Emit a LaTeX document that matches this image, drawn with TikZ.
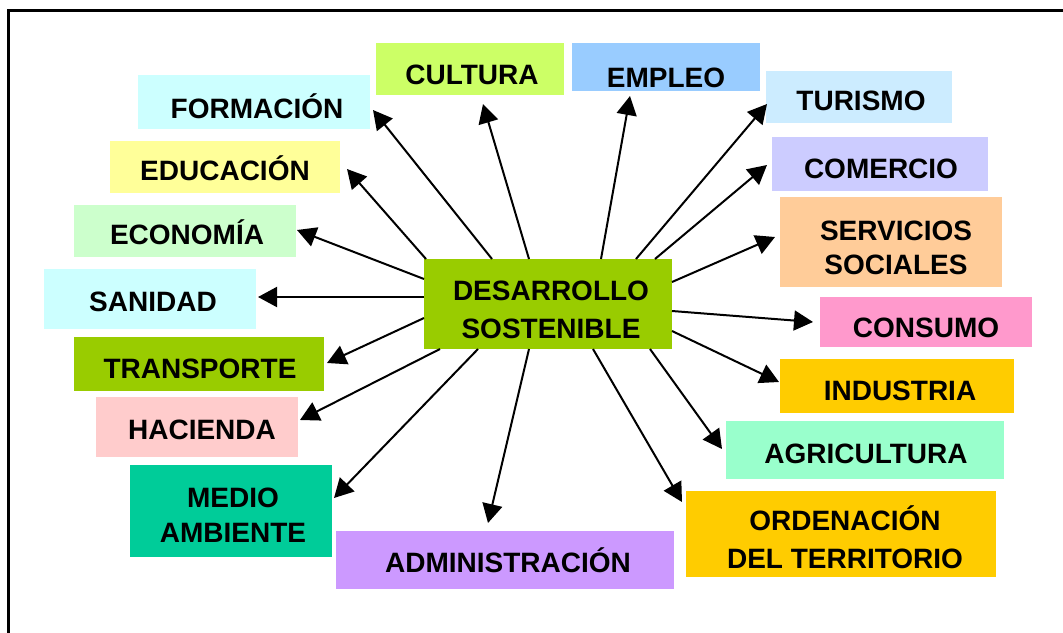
\documentclass[tikz,border=0pt]{standalone}
\usepackage{fontspec}
\setmainfont{Liberation Sans}
\usetikzlibrary{arrows.meta,calc}
\definecolor{cForm}{HTML}{CCFFFF}
\definecolor{cEdu}{HTML}{FFFF99}
\definecolor{cEco}{HTML}{CCFFCC}
\definecolor{cSan}{HTML}{CCFFFF}
\definecolor{cTra}{HTML}{99CC00}
\definecolor{cHac}{HTML}{FFCCCC}
\definecolor{cMed}{HTML}{00CC99}
\definecolor{cAdm}{HTML}{CC99FF}
\definecolor{cOrd}{HTML}{FFCC00}
\definecolor{cAgr}{HTML}{99FFCC}
\definecolor{cInd}{HTML}{FFCC00}
\definecolor{cCon}{HTML}{FF99CC}
\definecolor{cSer}{HTML}{FFCC99}
\definecolor{cCom}{HTML}{CCCCFF}
\definecolor{cTur}{HTML}{CCECFF}
\definecolor{cEmp}{HTML}{99CCFF}
\definecolor{cCul}{HTML}{CCFF66}
\definecolor{cDes}{HTML}{99CC00}
% #1 horizontal shift (doubled), #2 baseline drop, #3 line skip, #4 text
\newcommand\bt[4]{\smash{\raisebox{-#2}{\hspace*{#1}\vtop{\baselineskip=#3\halign{\hfil##\hfil\cr#4\crcr}}}}}
\begin{document}
\begin{tikzpicture}[x=1pt,y=-1pt,
  box/.style={inner sep=0pt, outer sep=0pt, font=\fontsize{28}{34}\selectfont\bfseries},
  arr/.style={line width=2pt, -{Triangle[length=19pt,width=20pt]}}]
\useasboundingbox (0,0) rectangle (1063,632);
\clip (0,0) rectangle (1063,632);
\fill[white] (0,0) rectangle (1063,632);
\draw[line width=3.3pt, line join=miter] (8.5,660) -- (8.5,10.5) -- (1090,10.5);

\node[box, fill=cDes, minimum width=248pt, minimum height=90pt] (c) at (548,304) {\bt{6pt}{-3.5pt}{38pt}{DESARROLLO\cr SOSTENIBLE}};

\node[box, fill=cForm, minimum width=232pt, minimum height=54pt] (form) at (254,102) {\bt{6pt}{16.5pt}{0pt}{FORMACIÓN}};
\node[box, fill=cEdu, minimum width=230pt, minimum height=52pt] (edu) at (225,167) {\bt{0pt}{13.5pt}{0pt}{EDUCACIÓN}};
\node[box, fill=cEco, minimum width=222pt, minimum height=52pt] (eco) at (185,231) {\bt{4pt}{13pt}{0pt}{ECONOMÍA}};
\node[box, fill=cSan, minimum width=212pt, minimum height=60pt] (san) at (150,299) {\bt{6pt}{12pt}{0pt}{SANIDAD}};
\node[box, fill=cTra, minimum width=250pt, minimum height=54pt] (tra) at (199,364) {\bt{2pt}{14pt}{0pt}{TRANSPORTE}};
\node[box, fill=cHac, minimum width=202pt, minimum height=60pt] (hac) at (197,427) {\bt{10pt}{12pt}{0pt}{HACIENDA}};
\node[box, fill=cMed, minimum width=202pt, minimum height=92pt] (med) at (231,511) {\bt{4pt}{-3.5pt}{35pt}{MEDIO\cr AMBIENTE}};
\node[box, fill=cAdm, minimum width=338pt, minimum height=58pt] (adm) at (505,560) {\bt{6pt}{12.5pt}{0pt}{ADMINISTRACIÓN}};
\node[box, fill=cOrd, minimum width=310pt, minimum height=86pt] (ord) at (841,534) {\bt{8pt}{-4pt}{38pt}{ORDENACIÓN\cr DEL TERRITORIO}};
\node[box, fill=cAgr, minimum width=278pt, minimum height=58pt] (agr) at (865,450) {\bt{2pt}{13pt}{0pt}{AGRICULTURA}};
\node[box, fill=cInd, minimum width=234pt, minimum height=54pt] (ind) at (897,386) {\bt{6pt}{14pt}{0pt}{INDUSTRIA}};
\node[box, fill=cCon, minimum width=212pt, minimum height=50pt] (con) at (926,322) {\bt{0pt}{15.5pt}{0pt}{CONSUMO}};
\node[box, fill=cSer, minimum width=222pt, minimum height=90pt] (ser) at (891,242) {\bt{10pt}{-1.5pt}{34pt}{SERVICIOS\cr SOCIALES}};
\node[box, fill=cCom, minimum width=216pt, minimum height=54pt] (com) at (880,164) {\bt{2pt}{14pt}{0pt}{COMERCIO}};
\node[box, fill=cTur, minimum width=186pt, minimum height=52pt] (tur) at (859,97) {\bt{4pt}{13.5pt}{0pt}{TURISMO}};
\node[box, fill=cEmp, minimum width=188pt, minimum height=48pt] (emp) at (666,67) {\bt{0pt}{20pt}{0pt}{EMPLEO}};
\node[box, fill=cCul, minimum width=188pt, minimum height=52pt] (cul) at (470,69) {\bt{4pt}{15pt}{0pt}{CULTURA}};

\draw[arr] ($(c.north west)+(68,0)$) -- ($(form.east)+(3,8)$);
\draw[arr] ($(c.north west)+(2,0)$) -- ($(edu.east)+(7,2)$);
\draw[arr] ($(c.north west)+(0,20)$) -- ($(eco.east)+(1,-1)$);
\draw[arr] ($(c.north west)+(0,38)$) -- ($(san.east)+(2,-2)$);
\draw[arr] ($(c.north west)+(0,59)$) -- ($(tra.east)+(3,-1)$);
\draw[arr] ($(c.south west)+(16,0)$) -- ($(hac.east)+(2,-7)$);
\draw[arr] ($(c.south west)+(54,0)$) -- ($(med.east)+(2,-13)$);
\draw[arr] ($(c.south west)+(105,0)$) -- ($(adm.north)+(-17,-8)$);
\draw[arr] ($(c.south west)+(169,0)$) -- ($(ord.north west)+(-4,11)$);
\draw[arr] ($(c.south west)+(226,0)$) -- ($(agr.west)+(-4,-1)$);
\draw[arr] ($(c.north east)+(0,72)$) -- ($(ind.west)+(-1,-4)$);
\draw[arr] ($(c.north east)+(0,52)$) -- ($(con.west)+(-7,0)$);
\draw[arr] ($(c.north east)+(0,23)$) -- ($(ser.west)+(-5,-5)$);
\draw[arr] ($(c.north east)+(-17,0)$) -- ($(com.west)+(-5,1)$);
\draw[arr] ($(c.north east)+(-36,0)$) -- ($(tur.west)+(1,7)$);
\draw[arr] ($(c.north west)+(177,0)$) -- ($(emp.south)+(-36,5)$);
\draw[arr] ($(c.north west)+(105,0)$) -- ($(cul.south)+(13,9)$);
\end{tikzpicture}
\end{document}
